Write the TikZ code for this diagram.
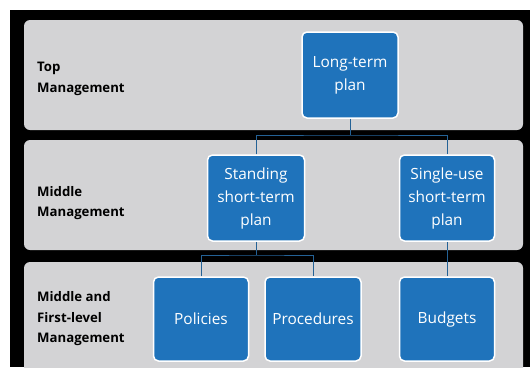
\documentclass[tikz,border=0pt]{standalone}
\usepackage{fontspec}
\setmainfont{Open Sans}
\begin{document}
\begin{tikzpicture}[x=1pt,y=-1pt,
  band/.style={fill=bandgray, rounded corners=6pt},
  plan/.style={draw=white, line width=1.5pt, fill=planblue, rounded corners=5pt,
    text=white, align=center, font=\fontsize{15.4}{23}\selectfont, inner sep=0pt},
  tier/.style={anchor=west, align=left, font=\fontsize{13.2}{20.5}\selectfont\bfseries, text=black, inner xsep=0pt},
  link/.style={draw=linkblue, line width=0.9pt}]
\definecolor{bandgray}{RGB}{211,211,213}
\definecolor{planblue}{RGB}{31,115,187}
\definecolor{linkblue}{RGB}{36,98,150}
\useasboundingbox (0,0) rectangle (530,367);
\fill[white] (0,0) rectangle (530,367);
\fill[black] (10,10) rectangle (530,367);
% management bands
\fill[band] (24,20) rectangle (523,130);
\fill[band] (24,140) rectangle (523,250);
\fill[band] (24,262) rectangle (523,380);
% tier labels
\node[tier] (t1) at (37,79) {Top\\Management};
\node[tier] (t2) at (37,203) {Middle\\Management};
\node[tier] (t3) at (37,319) {Middle and\\First-level\\Management};
% plan boxes
\node[plan, minimum width=96pt, minimum height=86pt] (lt) at (350,75) {Long-term\\plan};
\node[plan, minimum width=97pt, minimum height=86pt] (st) at (256,198) {Standing\\short-term\\plan};
\node[plan, minimum width=95pt, minimum height=86pt] (su) at (447,198) {Single-use\\short-term\\plan};
\node[plan, minimum width=95pt, minimum height=84pt] (po) at (201,319) {Policies};
\node[plan, minimum width=96pt, minimum height=84pt] (pr) at (313,319) {Procedures};
\node[plan, minimum width=95pt, minimum height=84pt] (bu) at (447,319) {Budgets};
% connectors
\coordinate (j1) at (350,135);
\coordinate (j2) at (256,255);
\draw[link] (lt.south) -- (j1);
\draw[link] (st.north) |- (j1) -| (su.north);
\draw[link] (st.south) -- (j2);
\draw[link] (po.north) |- (j2) -| (pr.north);
\draw[link] (su.south) -- (bu.north);
\end{tikzpicture}
\end{document}
